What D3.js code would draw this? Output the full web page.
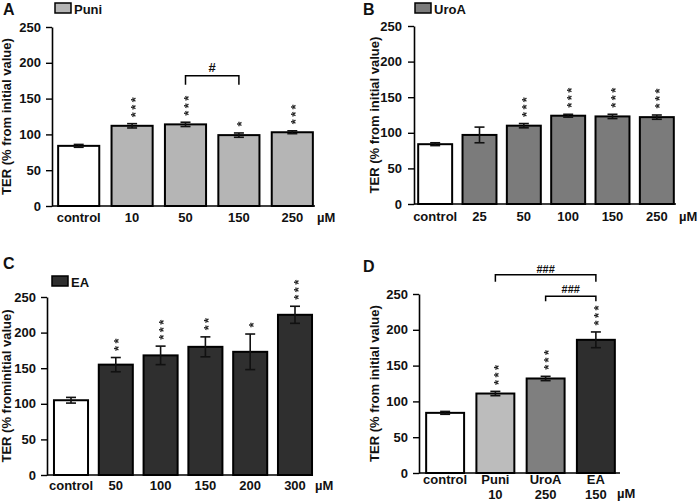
<!DOCTYPE html>
<html><head><meta charset="utf-8">
<script src="https://cdn.jsdelivr.net/npm/d3@7"></script>
<style>
html,body{margin:0;padding:0;background:#fff;}
svg{display:block;font-family:"Liberation Sans",Arial,sans-serif;font-weight:bold;}
.sig{filter:grayscale(1);}
</style></head>
<body><svg id="c" width="699" height="502"></svg>
<script>
// ---- data ----
const yTicks = [0, 50, 100, 150, 200, 250];

const catsA = ["control", "10", "50", "150", "250"];
const valsA = [84, 112, 114, 99, 103];
const errA  = [2, 3, 3, 3, 2];
const sigA  = ["", "***", "***", "*", "***"];
const bracketsA = [{from: "50", to: "150", value: 182, label: "#"}];

const catsB = ["control", "25", "50", "100", "150", "250"];
const valsB = [84, 97, 110, 124, 123, 122];
const errB  = [2, 11, 3, 2, 3, 3];
const sigB  = ["", "", "***", "***", "***", "***"];

const catsC = ["control", "50", "100", "150", "200", "300"];
const valsC = [105, 155, 168, 180, 173, 225];
const errC  = [4, 10, 13, 14, 25, 12];
const sigC  = ["", "**", "***", "**", "*", "***"];

const catsD = ["control", "Puni 10", "UroA 250", "EA 150"];
const valsD = [84, 111, 132, 186];
const errD  = [2, 3, 3, 11];
const sigD  = ["", "***", "***", "***"];
const bracketsD = [
  {from: "Puni 10", to: "EA 150", value: 277, label: "###"},
  {from: "UroA 250", to: "EA 150", value: 247, label: "###"}
];

// ---- layout ----
const svg = d3.select("#c");
const FS = 13;

function panel(o) {
  const g = svg.append("g");
  const x = d3.scaleBand().domain(o.cats).range(o.xr).paddingInner(o.pi).paddingOuter(o.pi / 2);
  const y = d3.scaleLinear().domain([0, 250]).range(o.yr);
  const data = o.cats.map((c, i) => ({c, v: o.vals[i], e: o.errs[i], s: o.sigs[i], f: o.fills[i]}));
  const cx = d => x(d.c) + x.bandwidth() / 2;

  // bars
  g.selectAll("rect.bar").data(data).join("rect")
    .attr("x", d => x(d.c)).attr("width", x.bandwidth())
    .attr("y", d => y(d.v)).attr("height", d => y(0) - y(d.v))
    .attr("fill", d => d.f).attr("stroke", "#000").attr("stroke-width", 2);

  // error bars
  const eb = g.selectAll("g.eb").data(data).join("g")
    .attr("stroke", "#111").attr("stroke-width", 1.6);
  eb.append("line").attr("x1", cx).attr("x2", cx)
    .attr("y1", d => y(d.v - d.e)).attr("y2", d => y(d.v + d.e));
  [1, -1].forEach(s => {
    eb.append("line").attr("x1", d => cx(d) - 5).attr("x2", d => cx(d) + 5)
      .attr("y1", d => y(d.v + s * d.e)).attr("y2", d => y(d.v + s * d.e));
  });

  // significance stars (rotated, stacked upward)
  g.append("g").attr("class", "sig").selectAll("text").data(data.filter(d => d.s)).join("text")
    .attr("transform", d => `translate(${cx(d) + 0.58 * FS},${y(d.v + d.e) - 6.5}) rotate(-90)`)
    .attr("font-size", FS).attr("letter-spacing", 2.4).attr("fill", "#222")
    .text(d => d.s);

  // axes
  const ya = g.append("g").attr("transform", `translate(${o.ax},0)`)
    .call(d3.axisLeft(y).tickValues(yTicks).tickSize(6).tickPadding(o.tp).tickSizeOuter(0));
  ya.select(".domain").attr("stroke", "#000").attr("stroke-width", 1.6);
  ya.selectAll(".tick line").attr("stroke", "#000").attr("stroke-width", 1.4);
  ya.selectAll(".tick text").attr("font-size", FS).attr("font-family", "Liberation Sans, Arial, sans-serif")
    .attr("font-weight", "bold").attr("fill", "#111");
  g.append("line").attr("x1", o.ax).attr("x2", o.axEnd).attr("y1", y(0)).attr("y2", y(0))
    .attr("stroke", "#000").attr("stroke-width", 1.6);

  // x labels
  data.forEach(d => {
    d.c.split(" ").forEach((p, j) => {
      g.append("text").attr("x", cx(d)).attr("y", y(0) + o.xlo + j * 15)
        .attr("text-anchor", "middle").attr("font-size", FS).attr("fill", "#111").text(p);
    });
  });
  g.append("text").attr("x", o.umx).attr("y", o.umy).attr("font-size", FS).attr("fill", "#111").text("µM");

  // y label
  g.append("text").attr("transform", `translate(${o.ylx},${(o.yr[0] + o.yr[1]) / 2}) rotate(-90)`)
    .attr("text-anchor", "middle").attr("font-size", FS).attr("fill", "#111").text(o.ylabel);

  // panel letter
  g.append("text").attr("x", o.lx).attr("y", o.ly).attr("font-size", 16).attr("fill", "#111").text(o.letter);

  // legend
  if (o.legend) {
    g.append("rect").attr("x", o.legend.x).attr("y", o.legend.y).attr("width", 16).attr("height", 10)
      .attr("fill", o.legend.fill).attr("stroke", "#000").attr("stroke-width", 1.5);
    g.append("text").attr("x", o.legend.x + 19).attr("y", o.legend.y + 10.5).attr("font-size", FS)
      .attr("fill", "#111").text(o.legend.text);
  }

  // brackets
  (o.brackets || []).forEach((b, i) => {
    const x1 = x(b.from) + x.bandwidth() / 2, x2 = x(b.to) + x.bandwidth() / 2;
    const yy = y(b.value), leg = o.legs[i];
    g.append("path").attr("d", `M${x1},${yy + leg}V${yy}H${x2}V${yy + leg}`)
      .attr("fill", "none").attr("stroke", "#000").attr("stroke-width", 1.5);
    g.append("text").attr("x", (x1 + x2) / 2).attr("y", yy - o.lgap[i]).attr("text-anchor", "middle")
      .attr("font-size", o.bfs).attr("fill", "#111").text(b.label);
  });
}

panel({cats: catsA, vals: valsA, errs: errA, sigs: sigA,
  fills: ["#fff", "#b5b5b5", "#b5b5b5", "#b5b5b5", "#b5b5b5"],
  xr: [52, 319], pi: 0.23, yr: [206, 27], ax: 52, axEnd: 315, tp: 5, xlo: 15.5,
  umx: 317, umy: 222, ylx: 11, ylabel: "TER (% from initial value)",
  letter: "A", lx: 3, ly: 15, legend: {x: 55, y: 3, fill: "#b5b5b5", text: "Puni"},
  brackets: bracketsA, legs: [9], lgap: [4], bfs: 13});

panel({cats: catsB, vals: valsB, errs: errB, sigs: sigB,
  fills: ["#fff", "#7b7b7b", "#7b7b7b", "#7b7b7b", "#7b7b7b", "#7b7b7b"],
  xr: [413, 679], pi: 0.234, yr: [204, 26], ax: 414, axEnd: 676, tp: 6, xlo: 16.5,
  umx: 679, umy: 221, ylx: 379, ylabel: "TER (% from initial value)",
  letter: "B", lx: 363, ly: 15, legend: {x: 415, y: 3, fill: "#7b7b7b", text: "UroA"}});

panel({cats: catsC, vals: valsC, errs: errC, sigs: sigC,
  fills: ["#fff", "#2f2f2f", "#2f2f2f", "#2f2f2f", "#2f2f2f", "#2f2f2f"],
  xr: [48.6, 317.4], pi: 0.24, yr: [475, 297], ax: 47, axEnd: 313, tp: 5, xlo: 15,
  umx: 315, umy: 490, ylx: 11, ylabel: "TER (% frominitial value)",
  letter: "C", lx: 3, ly: 269, legend: {x: 52, y: 276, fill: "#2f2f2f", text: "EA"}});

panel({cats: catsD, vals: valsD, errs: errD, sigs: sigD,
  fills: ["#fff", "#bcbcbc", "#7f7f7f", "#2e2e2e"],
  xr: [420, 621], pi: 0.245, yr: [473, 294], ax: 419, axEnd: 620, tp: 5, xlo: 11,
  umx: 617, umy: 498, ylx: 379, ylabel: "TER (% from initial value)",
  letter: "D", lx: 363, ly: 272,
  brackets: bracketsD, legs: [7, 5], lgap: [2, 3], bfs: 11});
</script></body></html>
